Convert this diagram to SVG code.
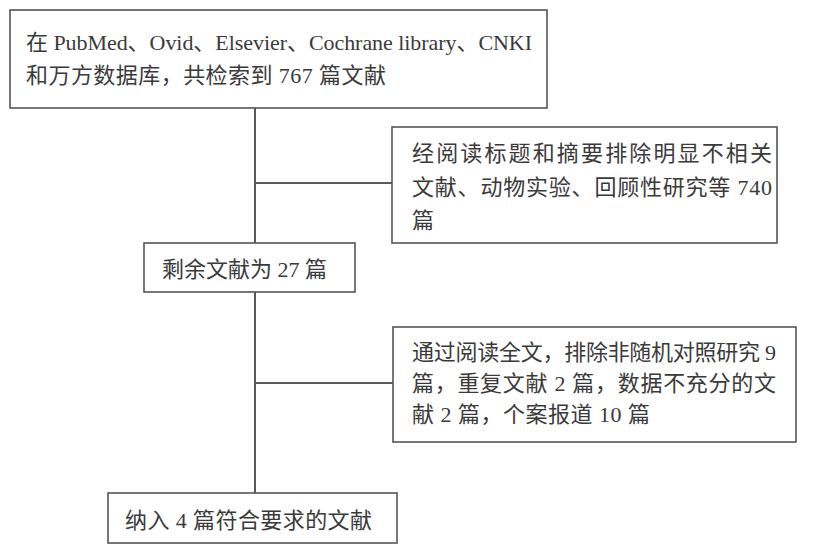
<svg xmlns="http://www.w3.org/2000/svg" width="820" height="555" viewBox="0 0 820 555">
<style>
.box{fill:#fff;stroke:#555;stroke-width:1.6}
.t{font-family:"Liberation Serif","Noto Sans CJK SC",serif;font-size:22px;fill:#3a3a3a}
.c{stroke:#222;stroke-width:1.5;fill:none}
</style>
<rect width="820" height="555" fill="#fff"/>
<g id="connectors">
<line class="c" x1="255" y1="108" x2="255" y2="243"/>
<line class="c" x1="255" y1="292" x2="255" y2="493"/>
<line class="c" x1="256" y1="183" x2="392" y2="183"/>
<line class="c" x1="256" y1="383" x2="393" y2="383"/>
</g>
<g id="n1">
<rect class="box" x="10" y="10" width="537" height="98"/>
<text class="t" x="26" y="50" textLength="506" lengthAdjust="spacing">在 PubMed、Ovid、Elsevier、Cochrane library、CNKI</text>
<text class="t" x="26" y="83" textLength="360" lengthAdjust="spacing">和万方数据库，共检索到 767 篇文献</text>
</g>
<g id="n2">
<rect class="box" x="392" y="127" width="385" height="116"/>
<text class="t" x="412" y="161" textLength="360" lengthAdjust="spacing">经阅读标题和摘要排除明显不相关</text>
<text class="t" x="412" y="195" textLength="360" lengthAdjust="spacing">文献、动物实验、回顾性研究等 740</text>
<text class="t" x="412" y="228">篇</text>
</g>
<g id="n3">
<rect class="box" x="144" y="243" width="211" height="49"/>
<text class="t" x="162" y="277" textLength="165" lengthAdjust="spacing">剩余文献为 27 篇</text>
</g>
<g id="n4">
<rect class="box" x="393" y="327" width="403" height="115"/>
<text class="t" x="412" y="360" textLength="364" lengthAdjust="spacing">通过阅读全文，排除非随机对照研究 9</text>
<text class="t" x="412" y="391" textLength="364" lengthAdjust="spacing">篇，重复文献  2  篇，数据不充分的文</text>
<text class="t" x="412" y="422" textLength="238" lengthAdjust="spacing">献  2 篇，个案报道 10 篇</text>
</g>
<g id="n5">
<rect class="box" x="108" y="493" width="289" height="50"/>
<text class="t" x="125" y="528" textLength="247" lengthAdjust="spacing">纳入 4 篇符合要求的文献</text>
</g>
</svg>
